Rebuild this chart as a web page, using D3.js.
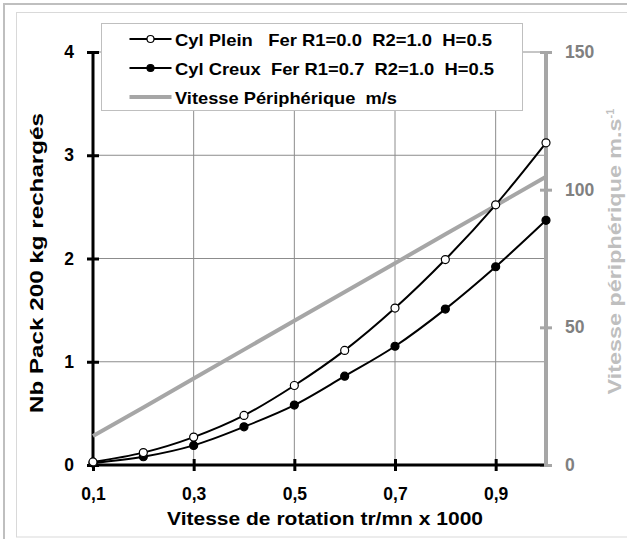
<!DOCTYPE html>
<html>
<head>
<meta charset="utf-8">
<script src="https://cdn.jsdelivr.net/npm/d3@7"></script>
<style>
  body { margin: 0; background: #fff; }
  text { font-family: "Liberation Sans", Arial, sans-serif; font-weight: bold; }
</style>
</head>
<body>
<div id="chart"></div>
<script>
// data
var vitesseRotation = [0.1, 0.2, 0.3, 0.4, 0.5, 0.6, 0.7, 0.8, 0.9, 1.0];
var cylPlein = [0.03, 0.12, 0.27, 0.48, 0.77, 1.11, 1.52, 1.99, 2.52, 3.12];
var cylCreux = [0.02, 0.08, 0.19, 0.37, 0.58, 0.86, 1.15, 1.51, 1.92, 2.37];
var vitessePeriph = [10.5, 20.9, 31.4, 41.9, 52.4, 62.8, 73.3, 83.8, 94.2, 104.7];

var xTicks = [0.1, 0.3, 0.5, 0.7, 0.9];
var yTicks = [0, 1, 2, 3, 4];
var y2Ticks = [0, 50, 100, 150];
var legendLabels = [
  "Cyl Plein   Fer R1=0.0  R2=1.0  H=0.5",
  "Cyl Creux  Fer R1=0.7  R2=1.0  H=0.5",
  "Vitesse Périphérique  m/s"
];
var legendWidths = [317, 319, 222];

var svgWidth = 627;
var svgHeight = 539;
var margin = { top: 52, right: 81, bottom: 74, left: 93 };
var width = svgWidth - margin.left - margin.right;
var height = svgHeight - margin.top - margin.bottom;

var grey = "#a6a6a6";

var svg = d3.select("#chart")
  .append("svg")
  .attr("width", svgWidth)
  .attr("height", svgHeight);

// frames
svg.append("rect")
  .attr("x", 4).attr("y", 4)
  .attr("width", 640).attr("height", 560)
  .attr("fill", "none").attr("stroke", "#bfbfbf").attr("stroke-width", 2);
svg.append("rect")
  .attr("x", 16.5).attr("y", 12.5)
  .attr("width", 640).attr("height", 524.5)
  .attr("fill", "none").attr("stroke", "#d9d9d9").attr("stroke-width", 1);

var chartGroup = svg.append("g")
  .attr("transform", `translate(${margin.left}, ${margin.top})`);

// scales
var xScale = d3.scaleLinear().domain([0.1, 1.0]).range([0, width]);
var yScale = d3.scaleLinear().domain([0, 4]).range([height, 0]);
var y2Scale = d3.scaleLinear().domain([0, 150]).range([height, 0]);

// grid
chartGroup.append("g")
  .selectAll("line")
  .data(xTicks.slice(1))
  .enter()
  .append("line")
  .attr("x1", d => xScale(d)).attr("x2", d => xScale(d))
  .attr("y1", 0).attr("y2", height)
  .attr("stroke", "#8c8c8c").attr("stroke-width", 1);

chartGroup.append("g")
  .selectAll("line")
  .data(yTicks.slice(1))
  .enter()
  .append("line")
  .attr("x1", 0).attr("x2", width)
  .attr("y1", d => yScale(d)).attr("y2", d => yScale(d))
  .attr("stroke", "#8c8c8c").attr("stroke-width", 1);

// axes
var bottomAxis = d3.axisBottom(xScale)
  .tickValues(xTicks)
  .tickSize(0)
  .tickPadding(23)
  .tickFormat(d => d3.format(".1f")(d).replace(".", ","));
var leftAxis = d3.axisLeft(yScale).tickValues(yTicks).tickSize(0).tickPadding(19).tickFormat(d3.format("d"));
var rightAxis = d3.axisRight(y2Scale).tickValues(y2Ticks).tickSize(0).tickPadding(19).tickFormat(d3.format("d"));

var gx = chartGroup.append("g")
  .attr("transform", `translate(0, ${height})`)
  .call(bottomAxis);
var gy = chartGroup.append("g").call(leftAxis);
var gy2 = chartGroup.append("g")
  .attr("transform", `translate(${width}, 0)`)
  .call(rightAxis);

[gx, gy, gy2].forEach(g => g.select(".domain").remove());
gx.selectAll("text").attr("font-size", 17.5).attr("fill", "#000");
gy.selectAll("text").attr("font-size", 17.5).attr("fill", "#000");
gy2.selectAll("text").attr("font-size", 17.5).attr("fill", "#808080");

// crossing tick marks
gx.selectAll(".tick").append("line")
  .attr("y1", -6).attr("y2", 6).attr("stroke", "#000").attr("stroke-width", 3);
gy.selectAll(".tick").append("line")
  .attr("x1", -6).attr("x2", 6).attr("stroke", "#000").attr("stroke-width", 3);
gy2.selectAll(".tick").append("line")
  .attr("x1", -6).attr("x2", 6).attr("stroke", grey).attr("stroke-width", 3);

// axis lines
chartGroup.append("line")
  .attr("x1", width).attr("x2", width).attr("y1", 0).attr("y2", height + 1)
  .attr("stroke", grey).attr("stroke-width", 4);
chartGroup.append("line")
  .attr("x1", 0).attr("x2", 0).attr("y1", 0).attr("y2", height)
  .attr("stroke", "#000").attr("stroke-width", 3);
chartGroup.append("line")
  .attr("x1", 0).attr("x2", width - 2).attr("y1", height).attr("y2", height)
  .attr("stroke", "#000").attr("stroke-width", 3);

// series
var curve = d3.curveCatmullRom.alpha(0.5);

chartGroup.append("path")
  .datum(vitesseRotation.map((x, i) => [x, vitessePeriph[i]]))
  .attr("fill", "none").attr("stroke", grey).attr("stroke-width", 4)
  .attr("d", d3.line().x(d => xScale(d[0])).y(d => y2Scale(d[1])));

[[cylCreux, "#000"], [cylPlein, "#fff"]].forEach(function(s) {
  var pts = vitesseRotation.map((x, i) => [x, s[0][i]]);
  chartGroup.append("path")
    .datum(pts)
    .attr("fill", "none").attr("stroke", "#000").attr("stroke-width", 2)
    .attr("d", d3.line().curve(curve).x(d => xScale(d[0])).y(d => yScale(d[1])));
  chartGroup.append("g")
    .selectAll("circle")
    .data(pts)
    .enter()
    .append("circle")
    .attr("cx", d => xScale(d[0]))
    .attr("cy", d => yScale(d[1]))
    .attr("r", 4)
    .attr("fill", s[1])
    .attr("stroke", "#000").attr("stroke-width", 1.2);
});

// legend
var legend = svg.append("g").attr("transform", "translate(101.5, 23.5)");
legend.append("rect")
  .attr("width", 421).attr("height", 87)
  .attr("fill", "#fff").attr("stroke", "#bfbfbf").attr("stroke-width", 1);

var legendItems = legend.selectAll(".item")
  .data(legendLabels)
  .enter()
  .append("g")
  .attr("transform", (d, i) => `translate(0, ${15.5 + i * 29})`);

legendItems.append("line")
  .attr("x1", 28).attr("x2", 70)
  .attr("stroke", (d, i) => i === 2 ? grey : "#000")
  .attr("stroke-width", (d, i) => i === 2 ? 4 : 2);
legendItems.filter((d, i) => i < 2)
  .append("circle")
  .attr("cx", 49).attr("r", 3.5)
  .attr("fill", (d, i) => i === 0 ? "#fff" : "#000")
  .attr("stroke", "#000").attr("stroke-width", 1.2);
legendItems.append("text")
  .attr("x", 73.5).attr("y", 6.5)
  .attr("font-size", 17)
  .attr("textLength", (d, i) => legendWidths[i])
  .attr("lengthAdjust", "spacingAndGlyphs")
  .style("white-space", "pre")
  .text(d => d);

// axis labels
chartGroup.append("text")
  .attr("transform", "rotate(-90)")
  .attr("x", -(263 - margin.top))
  .attr("y", -50)
  .attr("text-anchor", "middle")
  .attr("font-size", 18)
  .attr("textLength", 300)
  .attr("lengthAdjust", "spacingAndGlyphs")
  .text("Nb Pack 200 kg rechargés");

var rightLabel = chartGroup.append("text")
  .attr("transform", "rotate(-90)")
  .attr("x", -(251.5 - margin.top))
  .attr("y", width + 75)
  .attr("text-anchor", "middle")
  .attr("font-size", 18)
  .attr("fill", "#bfbfbf");
rightLabel.append("tspan")
  .attr("textLength", 276)
  .attr("lengthAdjust", "spacingAndGlyphs")
  .text("Vitesse périphérique m.s");
rightLabel.append("tspan").attr("dy", -7).attr("font-size", 11).text("-1");

chartGroup.append("text")
  .attr("x", width / 2 + 5.5)
  .attr("y", height + 60)
  .attr("text-anchor", "middle")
  .attr("font-size", 18)
  .attr("textLength", 316)
  .attr("lengthAdjust", "spacingAndGlyphs")
  .text("Vitesse de rotation tr/mn x 1000");
</script>
</body>
</html>
